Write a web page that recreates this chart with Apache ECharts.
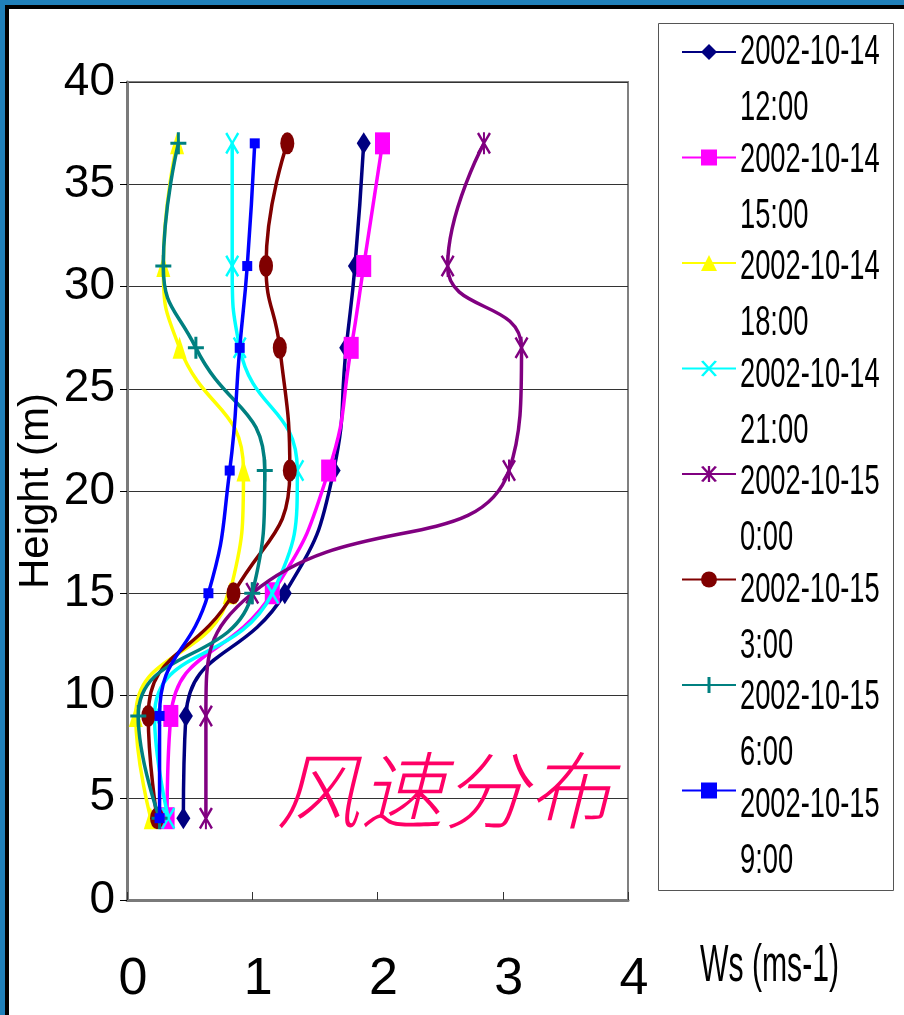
<!DOCTYPE html>
<html>
<head>
<meta charset="utf-8">
<script src="https://cdn.jsdelivr.net/npm/echarts@6/dist/echarts.min.js"></script>
<style>
  html, body { margin: 0; padding: 0; background: #fff; }
  #chart { width: 904px; height: 1015px; }
</style>
</head>
<body>
<div id="chart"></div>
<script>
// Measurement heights (m)
const heights = [4, 9, 15, 21, 27, 31, 37];

// Observation times (legend labels)
const obsDates = ['2002-10-14', '2002-10-14', '2002-10-14', '2002-10-14',
                  '2002-10-15', '2002-10-15', '2002-10-15', '2002-10-15'];
const obsTimes = ['12:00', '15:00', '18:00', '21:00', '0:00', '3:00', '6:00', '9:00'];

// Wind speed (m/s) at each height, one array per observation time
const ws_1014_1200 = [0.45, 0.47, 1.26, 1.65, 1.75, 1.82, 1.89];
const ws_1014_1500 = [0.32, 0.35, 1.16, 1.61, 1.79, 1.89, 2.04];
const ws_1014_1800 = [0.19, 0.07, 0.82, 0.93, 0.42, 0.29, 0.40];
const ws_1014_2100 = [0.33, 0.22, 1.16, 1.36, 0.90, 0.84, 0.84];
const ws_1015_0000 = [0.63, 0.63, 1.00, 3.05, 3.15, 2.56, 2.85];
const ws_1015_0300 = [0.24, 0.17, 0.85, 1.30, 1.22, 1.11, 1.28];
const ws_1015_0600 = [0.26, 0.09, 1.00, 1.10, 0.55, 0.29, 0.41];
const ws_1015_0900 = [0.26, 0.26, 0.65, 0.82, 0.90, 0.96, 1.02];

const windProfiles = [ws_1014_1200, ws_1014_1500, ws_1014_1800, ws_1014_2100,
                      ws_1015_0000, ws_1015_0300, ws_1015_0600, ws_1015_0900];

// Axis ticks
const xTicks = [0, 1, 2, 3, 4];
const yTicks = [0, 5, 10, 15, 20, 25, 30, 35, 40];

const chartTitle = '风速分布';
const xAxisName = 'Ws (ms-1)';
const yAxisName = 'Height (m)';

const SANS = '"Liberation Sans", Arial, sans-serif';

// Marker shapes
const PATH_X = 'path://M0,1.5L2,0L7,8.6L12,0L14,1.5L8.4,11L14,20.5L12,22L7,13.4L2,22L0,20.5L5.6,11Z';
const PATH_STAR = PATH_X + 'M6,0H8V22H6Z';
const PATH_PLUS = 'path://M6.5,0H9.5V9.5H16V12.5H9.5V22H6.5V12.5H0V9.5H6.5Z';

const styles = [
  { color: '#000080', symbol: 'diamond', size: [14, 22] },
  { color: '#FF00FF', symbol: 'rect', size: [15, 22] },
  { color: '#FFFF00', symbol: 'triangle', size: [14, 22] },
  { color: '#00FFFF', symbol: PATH_X, size: [14, 22] },
  { color: '#800080', symbol: PATH_STAR, size: [14, 22] },
  { color: '#800000', symbol: 'circle', size: [14, 22] },
  { color: '#008080', symbol: PATH_PLUS, size: [16, 22] },
  { color: '#0000FF', symbol: 'rect', size: [10, 10] }
];

const seriesNames = obsDates.map((d, i) => d + ' ' + obsTimes[i]);

const series = windProfiles.map((vals, i) => ({
  name: seriesNames[i],
  type: 'line',
  smooth: 0.5,
  data: vals.map((v, k) => [v, heights[k]]),
  symbol: styles[i].symbol,
  symbolSize: styles[i].size,
  showAllSymbol: true,
  lineStyle: { color: styles[i].color, width: 3.5 },
  itemStyle: { color: styles[i].color },
  emphasis: { disabled: true },
  z: 3 + i
}));

// Legend layout: markers come from the legend component, the condensed
// two-line captions are drawn beside them.
const LEGEND_LEFT = 681, LEGEND_FIRST_Y = 52, LEGEND_STEP = 107.5;
const LEGEND_ICON_H = 20;

const legendCaptions = seriesNames.map((n, i) => ({
  type: 'text',
  x: 740,
  y: LEGEND_FIRST_Y - 27.5 + i * LEGEND_STEP,
  scaleX: 0.65,
  z: 20,
  silent: true,
  style: {
    text: obsDates[i] + '\n' + obsTimes[i],
    font: '42px ' + SANS,
    lineHeight: 56,
    fill: '#000',
    align: 'left',
    verticalAlign: 'top'
  }
}));

const chart = echarts.init(document.getElementById('chart'), null, { renderer: 'canvas' });

chart.setOption({
  animation: false,
  backgroundColor: '#ffffff',
  grid: {
    left: 127, right: 276, top: 82, bottom: 115,
    outerBoundsMode: 'none',
    show: true, backgroundColor: '#ffffff',
    borderColor: '#808080', borderWidth: 2
  },
  xAxis: {
    type: 'value',
    min: xTicks[0], max: xTicks[xTicks.length - 1], interval: 1,
    axisLine: { show: true, lineStyle: { color: '#7a7a7a', width: 3 } },
    axisTick: { show: true, inside: true, length: 8, lineStyle: { color: '#333', width: 1 } },
    splitLine: { show: false },
    axisLabel: {
      fontFamily: SANS,
      fontSize: 52, color: '#000', margin: 54, padding: [0, 0, 0, 12]
    }
  },
  yAxis: {
    type: 'value',
    min: yTicks[0], max: yTicks[yTicks.length - 1], interval: 5,
    name: yAxisName,
    nameLocation: 'middle',
    nameRotate: 90,
    nameGap: 70,
    nameMoveOverlap: false,
    nameTextStyle: { fontFamily: SANS, fontSize: 42, color: '#000' },
    axisLine: { show: true, lineStyle: { color: '#7a7a7a', width: 3 } },
    axisTick: { show: true, inside: false, length: 7, lineStyle: { color: '#000', width: 1 } },
    splitLine: { show: true, lineStyle: { color: '#333', width: 1 } },
    axisLabel: { fontFamily: SANS, fontSize: 46, color: '#000', margin: 12 }
  },
  legend: {
    orient: 'vertical',
    left: LEGEND_LEFT, top: LEGEND_FIRST_Y - LEGEND_ICON_H / 2,
    padding: 0,
    itemWidth: 54, itemHeight: LEGEND_ICON_H,
    itemGap: LEGEND_STEP - LEGEND_ICON_H,
    selectedMode: false,
    formatter: () => '',
    data: seriesNames
  },
  graphic: [
    // page frame: blue band with black inner rule on top and left
    { type: 'rect', left: 0, top: 0, shape: { width: 904, height: 5 }, style: { fill: '#2080BA' }, z: 100 },
    { type: 'rect', left: 0, top: 0, shape: { width: 5, height: 1015 }, style: { fill: '#2080BA' }, z: 100 },
    { type: 'rect', left: 5, top: 5, shape: { width: 899, height: 4 }, style: { fill: '#000' }, z: 100 },
    { type: 'rect', left: 5, top: 5, shape: { width: 4, height: 1010 }, style: { fill: '#000' }, z: 100 },
    // legend frame
    { type: 'rect', left: 656, top: 21, shape: { width: 235, height: 867 },
      style: { fill: 'none', stroke: '#555', lineWidth: 1 }, z: 1 },
    ...legendCaptions,
    // x-axis title, condensed
    { type: 'text', x: 700, y: 967, scaleX: 0.58, z: 20, silent: true,
      style: { text: xAxisName, font: '52px ' + SANS, fill: '#000',
               align: 'left', verticalAlign: 'middle' } },
    // in-plot caption
    { type: 'text', left: 276, top: 748, z: 50,
      style: { text: chartTitle, fill: '#FF0066',
               font: 'italic 300 84px "Noto Sans CJK SC", sans-serif' } }
  ],
  series: series
});
</script>
</body>
</html>
